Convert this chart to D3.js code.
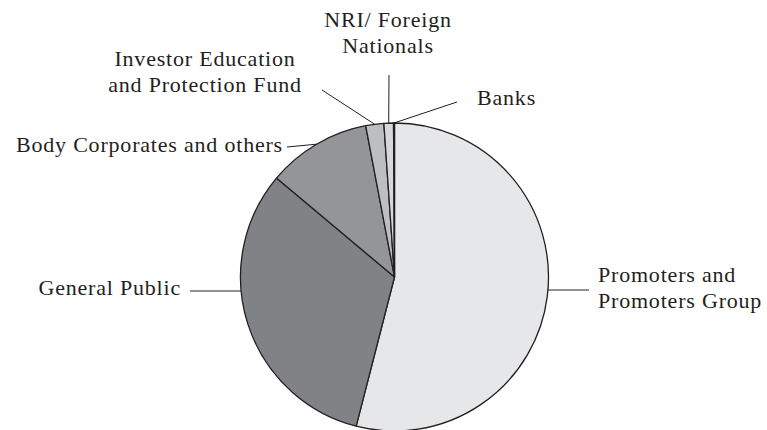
<!DOCTYPE html>
<html>
<head>
<meta charset="utf-8">
<script src="https://cdn.jsdelivr.net/npm/d3@7"></script>
<style>
  body { margin: 0; background: #fff; }
  svg text { font-family: "Liberation Serif", "DejaVu Serif", serif; fill: #231f20; }
</style>
</head>
<body>
<div id="chart"></div>
<script>
// shareholding categories, clockwise from 12 o'clock
var categories = [ "Promoters and Promoters Group", "General Public", "Body Corporates and others",
  "Investor Education and Protection Fund", "NRI/ Foreign Nationals", "Banks" ];
// percent of shares
var shares = [ 54.0, 32.1, 10.9, 1.9, 1.0, 0.1 ];
// label text as printed, split into lines
var labelLines = [
  [ "Promoters and", "Promoters Group" ],
  [ "General Public" ],
  [ "Body Corporates and others" ],
  [ "Investor Education", "and Protection Fund" ],
  [ "NRI/ Foreign", "Nationals" ],
  [ "Banks" ]
];

var width = 767,
  height = 430,
  cx = 394.5,
  cy = 277,
  radius = 154,
  fontSize = 22,
  letterSpacing = 0.8,
  lineHeight = 25.5;

var fills = [ "#e6e7e8", "#808285", "#939598", "#bcbec0", "#d7d8da", "#e6e7e8" ];

// where each label sits and where its leader ends (layout only)
var labelLayout = [
  { x: 598, y: 282, anchor: "start", endX: 589, horizontal: true, lineY: 290 },
  { x: 181, y: 295, anchor: "end", endX: 190, horizontal: true, lineY: 291 },
  { x: 283, y: 152, anchor: "end", endX: 287, endY: 147 },
  { x: 205, y: 66, anchor: "middle", endX: 322, endY: 90 },
  { x: 388, y: 27, anchor: "middle", endX: 389, endY: 75 },
  { x: 477, y: 105, anchor: "start", endX: 457, endY: 102 }
];

var data = categories.map( function( c, i ) {
  return { name: c, value: shares[ i ], lines: labelLines[ i ], layout: labelLayout[ i ], fill: fills[ i ] };
} );

var svg = d3.select( "#chart" ).append( "svg" )
  .attr( "width", width )
  .attr( "height", height );

var g = svg.append( "g" )
  .attr( "transform", "translate(" + cx + "," + cy + ")" );

var pie = d3.pie()
  .sort( null )
  .value( function( d ) { return d.value; } );

var arc = d3.arc()
  .innerRadius( 0 )
  .outerRadius( radius );

var arcs = pie( data );

g.selectAll( "path.slice" )
  .data( arcs )
  .enter()
  .append( "path" )
    .attr( "class", "slice" )
    .attr( "d", arc )
    .style( "fill", function( d ) { return d.data.fill; } )
    .style( "stroke", "#231f20" )
    .style( "stroke-width", 1.3 )
    .style( "stroke-linejoin", "round" );

// leader lines
g.selectAll( "line.leader" )
  .data( arcs )
  .enter()
  .append( "line" )
    .attr( "class", "leader" )
    .each( function( d ) {
      var L = d.data.layout, x1, y1, x2, y2;
      if ( L.horizontal ) {
        y1 = L.lineY - cy;
        var dx = Math.sqrt( radius * radius - y1 * y1 );
        x1 = L.endX > cx ? dx : -dx;
        x2 = L.endX - cx;
        y2 = y1;
      } else {
        var a = ( d.startAngle + d.endAngle ) / 2;
        x1 = radius * Math.sin( a );
        y1 = -radius * Math.cos( a );
        x2 = L.endX - cx;
        y2 = L.endY - cy;
      }
      d3.select( this )
        .attr( "x1", x1 ).attr( "y1", y1 )
        .attr( "x2", x2 ).attr( "y2", y2 );
    } )
    .style( "stroke", "#231f20" )
    .style( "stroke-width", 1 );

// labels
var labels = svg.selectAll( "text.label" )
  .data( data )
  .enter()
  .append( "text" )
    .attr( "class", "label" )
    .attr( "text-anchor", function( d ) { return d.layout.anchor; } )
    .style( "font-size", fontSize + "px" )
    .style( "letter-spacing", letterSpacing + "px" );

labels.selectAll( "tspan" )
  .data( function( d ) { return d.lines.map( function( t ) { return { t: t, L: d.layout }; } ); } )
  .enter()
  .append( "tspan" )
    .attr( "x", function( d ) { return d.L.x; } )
    .attr( "y", function( d, i ) { return d.L.y + i * lineHeight; } )
    .text( function( d ) { return d.t; } );
</script>
</body>
</html>
